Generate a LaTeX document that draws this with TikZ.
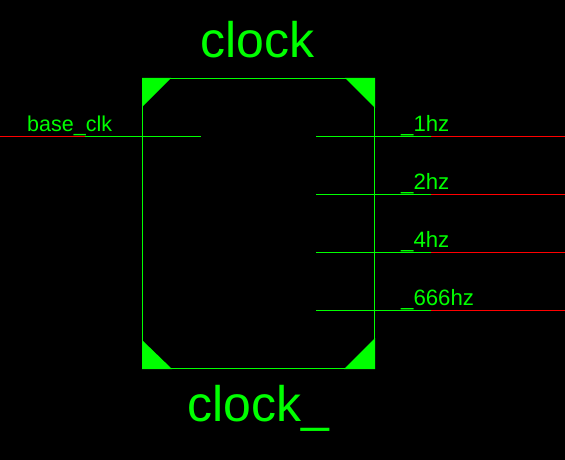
\documentclass[tikz,border=0pt]{standalone}
\usepackage{fontspec}
\setmainfont{Liberation Sans}
\definecolor{wiregreen}{RGB}{0,255,0}
\definecolor{wirered}{RGB}{255,0,0}
\tikzset{
  x=1pt,y=-1pt,
  gline/.style={draw=wiregreen,line width=1pt},
  rline/.style={draw=wirered,line width=1pt},
  corner/.style={fill=wiregreen,draw=none},
  title/.style={text=wiregreen,font=\fontsize{50}{50}\selectfont,inner sep=0pt,anchor=base},
  pinlabel/.style={text=wiregreen,font=\fontsize{21.5}{21.5}\selectfont,inner sep=0pt,anchor=base west},
  outlabel/.style={text=wiregreen,font=\fontsize{22.2}{22.2}\selectfont,inner sep=0pt,anchor=base west},
}
\begin{document}
\begin{tikzpicture}
\useasboundingbox[fill=black] (0,0) rectangle (565,460);
\coordinate (tl) at (142.5,78.5);
\coordinate (tr) at (374.5,78.5);
\coordinate (br) at (374.5,368.5);
\coordinate (bl) at (142.5,368.5);
\draw[gline] (tl) -- (tr) -- (br) -- (bl) -- cycle;
\fill[corner] (142,78) -- (171,78) -- (142,107) -- cycle;
\fill[corner] (375,78) -- (345,78) -- (375,108) -- cycle;
\fill[corner] (142,369) -- (172,369) -- (142,340) -- cycle;
\fill[corner] (375,369) -- (344,369) -- (375,338) -- cycle;
\node[title] (top) at (257.5,58) {clock};
\node[title] (bottom) at (258.5,421.5) {clock\_};
% input pin
\coordinate (inA) at (0,136.5);
\coordinate (inB) at (85,136.5);
\coordinate (inC) at (201,136.5);
\draw[rline] (inA) -- (inB);
\draw[gline] (inB) -- (inC);
\node[pinlabel] (base) at (27,131) {base\_clk};
% output pins
\foreach \n/\y/\t in {a/136.5/\_1hz,b/194.5/\_2hz,c/252.5/\_4hz,d/310.5/\_666hz}{
  \coordinate (o\n A) at (316,\y);
  \coordinate (o\n B) at (431,\y);
  \coordinate (o\n C) at (565,\y);
  \draw[gline] (o\n A) -- (o\n B);
  \draw[rline] (o\n B) -- (o\n C);
  \node[outlabel] (l\n) at (401,\y-5) {\t};
}
\end{tikzpicture}
\end{document}
